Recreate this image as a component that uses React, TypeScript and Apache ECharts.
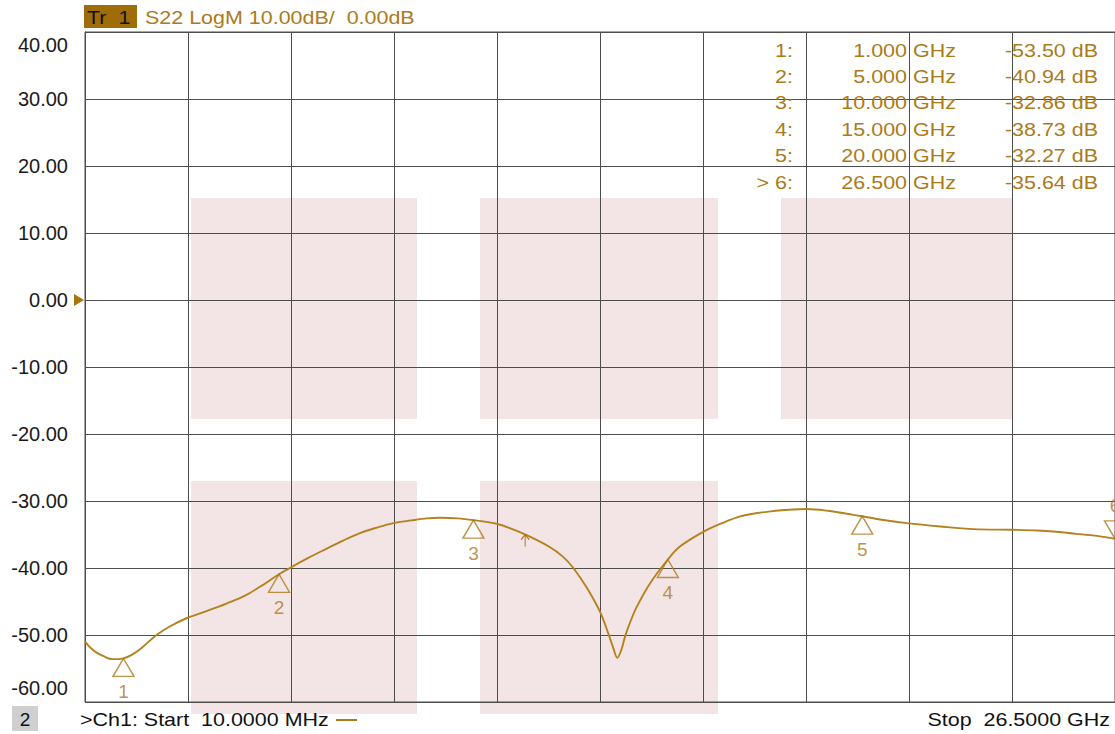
import React, { useEffect, useRef } from "react";
import * as echarts from "echarts";

// ---- data ----
const startGHz = 0.01;
const stopGHz = 26.5;
const yMin = -60;
const yMax = 40;
const yStep = 10;
const refLevel = 0;
const xDivisions = 10;

const traceFreq = [
  0.01, 0.15, 0.3, 0.5, 0.7, 0.85, 1.0, 1.2, 1.45, 1.85, 2.2, 2.62, 3.1, 3.65, 4.1, 4.51, 5.0, 5.28,
  5.75, 6.23, 6.65, 7.08, 7.5, 7.94, 8.4, 8.8, 9.14, 9.6, 10.0, 10.6, 11.0, 11.37, 11.97, 12.3, 12.57,
  12.92, 13.26, 13.47, 13.6, 13.7, 13.8, 13.9, 14.05, 14.2, 14.54, 15.0, 15.31, 15.91, 16.4, 16.86,
  17.3, 17.71, 18.1, 18.57, 19.17, 19.6, 20.0, 20.5, 21.14, 22.0, 22.86, 23.88, 24.5, 25.0, 25.5,
  25.86, 26.2, 26.5,
];
const traceDb = [
  -51.0, -51.9, -52.6, -53.2, -53.6, -53.6, -53.5, -53.0, -52.0, -50.0, -48.7, -47.5, -46.5, -45.3,
  -44.2, -42.8, -40.94, -40.0, -38.5, -37.1, -35.9, -34.8, -34.0, -33.3, -32.9, -32.6, -32.5, -32.6,
  -32.86, -33.4, -34.2, -35.1, -36.9, -38.3, -40.0, -43.0, -46.6, -49.8, -52.0, -53.4, -52.3, -50.2,
  -47.8, -45.8, -42.3, -38.73, -36.8, -34.6, -33.3, -32.3, -31.8, -31.5, -31.3, -31.2, -31.5, -31.9,
  -32.27, -32.8, -33.3, -33.8, -34.2, -34.3, -34.4, -34.6, -34.9, -35.1, -35.35, -35.64,
];

const markerFreq = [1.0, 5.0, 10.0, 15.0, 20.0, 26.5];
const markerDb = [-53.5, -40.94, -32.86, -38.73, -32.27, -35.64];
const activeMarker = 5;

const arrowFreq = 11.33;
const arrowDb = -35.0;

const traceTag = "Tr  1";
const headerText = "S22 LogM 10.00dB/  0.00dB";
const windowLabel = "2";
const footerLeft = ">Ch1: Start  10.0000 MHz";
const footerRight = "Stop  26.5000 GHz";

// ---- styles ----
const GOLD = "#ab7a1a";
const TRACE = "#b3821f";
const GRID = "#4d4d4d";
const PINK = "#f3e5e5";
const FONT = "'Liberation Sans', Arial, sans-serif";
const SX = 1.13;

const pinkBoxes = [
  [191, 198, 226, 221],
  [480, 198, 238, 221],
  [781, 198, 231, 221],
  [191, 481, 226, 233],
  [480, 481, 238, 233],
];

function txt(id: string, text: string, x: number, y: number, fill: string, align: string, size = 19, scale = SX) {
  return {
    type: "text",
    id,
    x,
    y,
    scaleX: scale,
    z: 50,
    style: {
      text,
      fill,
      fontSize: size,
      fontFamily: FONT,
      textAlign: align,
      align,
      textVerticalAlign: "middle",
      verticalAlign: "middle",
    },
  };
}

export default function App() {
  const ref = useRef<HTMLDivElement>(null);

  useEffect(() => {
    const chart = echarts.init(ref.current!, null, { renderer: "svg" });
    const trace = traceFreq.map((f, i) => [f, traceDb[i]]);
    const markers = markerFreq.map((f, i) => {
      const active = i === activeMarker;
      return {
        value: [f, markerDb[i]],
        name: String(i + 1),
        symbol: active ? "path://M0,0 L20,0 L10,18 Z" : "triangle",
        symbolOffset: active ? [0, -9] : [0, 9],
        label: { position: active ? "top" : "bottom" },
      };
    });

    chart.setOption({
      animation: false,
      grid: {
        left: 85,
        top: 32,
        width: 1030,
        height: 670,
        show: true,
        borderColor: GRID,
        borderWidth: 1,
        backgroundColor: "transparent",
      },
      xAxis: [
        {
          type: "value",
          min: startGHz,
          max: stopGHz,
          show: false,
          splitLine: { show: false },
        },
        {
          type: "value",
          min: 0,
          max: xDivisions,
          interval: 1,
          position: "top",
          axisLine: { show: false },
          axisTick: { show: false },
          axisLabel: { show: false },
          splitLine: { show: true, lineStyle: { color: GRID, width: 1 } },
        },
      ],
      yAxis: {
        type: "value",
        min: yMin,
        max: yMax,
        interval: yStep,
        axisLine: { show: true, lineStyle: { color: GRID } },
        axisTick: { show: false },
        splitLine: { show: true, lineStyle: { color: GRID, width: 1 } },
        axisLabel: {
          showMinLabel: false,
          showMaxLabel: false,
          formatter: (v: number) => v.toFixed(2),
          color: "#1a1a1a",
          fontSize: 20,
          fontFamily: FONT,
          margin: 17,
        },
      },
      series: [
        {
          type: "line",
          xAxisIndex: 0,
          data: trace,
          showSymbol: false,
          smooth: 0.35,
          lineStyle: { color: TRACE, width: 1.9 },
          itemStyle: { color: TRACE },
          z: 3,
          markPoint: {
            symbol: "path://M5,0 L0,6 M5,0 L10,6 M5,0 L5,14",
            symbolSize: [8, 12],
            symbolOffset: [0, 6],
            itemStyle: { color: "none", borderColor: GOLD, borderWidth: 1.2 },
            label: { show: false },
            data: [{ coord: [arrowFreq, arrowDb] }],
          },
        },
        {
          type: "scatter",
          xAxisIndex: 0,
          data: markers,
          symbolSize: [21, 18],
          itemStyle: { color: "rgba(0,0,0,0)", borderColor: GOLD, borderWidth: 1.4 },
          label: {
            show: true,
            formatter: (p: any) => p.name,
            color: GOLD,
            fontSize: 19,
            fontFamily: FONT,
            distance: 5,
          },
          z: 4,
        },
      ],
    });

    const yTop = chart.convertToPixel({ yAxisIndex: 0 }, yMax) as number;
    const yBot = chart.convertToPixel({ yAxisIndex: 0 }, yMin) as number;
    const yRef = chart.convertToPixel({ yAxisIndex: 0 }, refLevel) as number;
    const xLeft = chart.convertToPixel({ xAxisIndex: 0 }, startGHz) as number;

    const graphic: any[] = [];
    pinkBoxes.forEach((b, i) =>
      graphic.push({
        type: "rect",
        id: "pink" + i,
        z: -5,
        shape: { x: b[0], y: b[1], width: b[2], height: b[3] },
        style: { fill: PINK },
      })
    );
    // header
    graphic.push({
      type: "rect",
      id: "trbox",
      z: 40,
      shape: { x: 84, y: 5, width: 53, height: 23 },
      style: { fill: "#9f6d08" },
    });
    graphic.push(txt("trtxt", traceTag, 87, 17, "#111111", "left"));
    graphic.push(txt("hdr", headerText, 145, 17, GOLD, "left"));
    // marker table
    markerFreq.forEach((f, i) => {
      const y = 50 + i * 26.4;
      const lbl = (i === activeMarker ? "> " : "") + (i + 1) + ":";
      graphic.push(txt("mi" + i, lbl, 793, y, GOLD, "right"));
      graphic.push(txt("mf" + i, f.toFixed(3), 907, y, GOLD, "right"));
      graphic.push(txt("mu" + i, "GHz", 913, y, GOLD, "left"));
      graphic.push(txt("md" + i, markerDb[i].toFixed(2) + " dB", 1098, y, GOLD, "right"));
    });
    // y extreme labels (shifted inside like the instrument)
    graphic.push(txt("ymax", yMax.toFixed(2), 68, yTop + 13, "#1a1a1a", "right", 20, 1));
    graphic.push(txt("ymin", yMin.toFixed(2), 68, yBot - 14, "#1a1a1a", "right", 20, 1));
    // reference level arrow
    graphic.push({
      type: "polygon",
      id: "refarrow",
      z: 40,
      shape: { points: [[xLeft - 11, yRef - 6], [xLeft - 1, yRef], [xLeft - 11, yRef + 6]] },
      style: { fill: "#a8740c" },
    });
    // footer
    graphic.push({
      type: "rect",
      id: "winbox",
      z: 40,
      shape: { x: 12, y: 706, width: 26, height: 25 },
      style: { fill: "#cfcfcf" },
    });
    graphic.push(txt("win", windowLabel, 25, 719, "#111111", "center", 19, 1));
    graphic.push(txt("fl", footerLeft, 80, 719, "#111111", "left"));
    graphic.push({
      type: "line",
      id: "fline",
      z: 40,
      shape: { x1: 336, y1: 720, x2: 357, y2: 720 },
      style: { stroke: GOLD, lineWidth: 2 },
    });
    graphic.push(txt("fr", footerRight, 1110, 719, "#111111", "right"));

    chart.setOption({ graphic });

    return () => chart.dispose();
  }, []);

  return (
    <div
      ref={ref}
      style={{ position: "fixed", left: 0, top: 0, width: 1115, height: 734, background: "#ffffff" }}
    />
  );
}
